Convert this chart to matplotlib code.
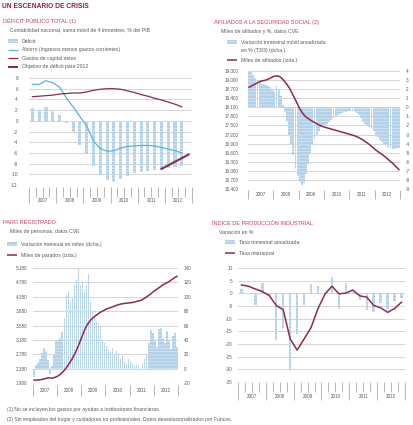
import matplotlib
matplotlib.use("Agg")
import matplotlib.pyplot as plt
from matplotlib.lines import Line2D
from matplotlib.patches import Rectangle

plt.rcParams["font.family"] = ["Liberation Sans", "DejaVu Sans"]
plt.rcParams["hatch.linewidth"] = 0.25
plt.rcParams["axes.unicode_minus"] = False

W, H = 414, 425

# --- data -------------------------------------------------------------
years = ["2007", "2008", "2009", "2010", "2011", "2012"]
quarters = [f"{y}T{q}" for y in years for q in range(1, 5)]

# Deficit publico, % PIB (2007T1-2012T3)
deficit = [2.3, 2.0, 2.5, 1.9, 1.0, -0.4, -2.0, -4.5, -6.2, -8.4, -10.2, -11.0,
           -11.5, -10.9, -10.3, -9.7, -9.5, -9.3, -9.2, -9.1, -8.8, -8.7, -8.5]
ahorro = [6.8, 6.8, 7.5, 7.1, 6.3, 4.3, 2.6, 0.8, -1.0, -3.8, -5.2, -5.7,
          -5.6, -5.1, -4.8, -4.7, -4.6, -4.6, -4.7, -5.0, -5.3, -5.6, -6.0]
gastos_capital = [4.5, 4.6, 4.7, 4.8, 5.0, 5.1, 5.2, 5.2, 5.4, 5.7, 5.9, 6.0,
                  6.0, 5.9, 5.6, 5.3, 4.9, 4.6, 4.2, 3.9, 3.5, 3.1, 2.6]
objetivo_q = ["2011T4", "2012T4"]
objetivo = [-9.0, -6.3]

# Afiliados (mensual 2007-2012)
afil_var = [4.0, 4.0, 3.6, 3.2, 3.0, 2.8, 2.6, 2.6, 2.5, 2.3, 2.2, 2.0,
            1.8, 2.3, 1.9, 1.2, 0.3, -0.5, -1.5, -3.0, -4.2, -5.3, -6.8, -7.6,
            -8.2, -8.6, -8.3, -7.4, -6.2, -5.0, -4.2, -3.5, -3.0, -2.6, -2.2, -1.9,
            -1.9, -1.8, -1.6, -1.4, -1.2, -1.0, -0.8, -0.7, -0.6, -0.5, -0.5, -0.4,
            -0.4, -0.4, -0.5, -0.6, -0.9, -1.2, -1.6, -1.8, -2.0, -2.2, -2.4, -2.6,
            -3.0, -3.3, -3.6, -3.8, -4.0, -4.2, -4.4, -4.5, -4.6, -4.6, -4.5, -4.5]
afil_miles = [18760, 18800, 18840, 18870, 18910, 18950, 18970, 18985, 19000, 19030, 19060, 19100,
              19130, 19140, 19130, 19090, 19020, 18940, 18850, 18750, 18620, 18480, 18340, 18200,
              18060, 17940, 17850, 17780, 17730, 17680, 17640, 17600, 17560, 17520, 17490, 17460,
              17440, 17420, 17400, 17380, 17360, 17340, 17320, 17300, 17280, 17260, 17240, 17220,
              17200, 17180, 17160, 17130, 17100, 17060, 17020, 16970, 16920, 16870, 16810, 16750,
              16690, 16640, 16590, 16540, 16490, 16430, 16370, 16310, 16250, 16180, 16110, 16040]

# Paro registrado (mensual 2007-2012)
paro_var = [-12, 5, 8, 14, 22, 29, 24, 12, -7, 4, 20, 38,
            40, 43, 51, 70, 103, 106, 93, 98, 117, 124, 139, 117,
            122, 108, 117, 131, 93, 79, 74, 65, 63, 58, 40, 35,
            32, 28, 25, 29, 20, 26, 22, 14, 18, 10, 6, 14,
            10, 6, 3, 5, 3, -2, 8, 14, 20, 35, 54, 50,
            38, 30, 55, 56, 42, 35, 52, 40, 28, 45, 50, 30]
paro_miles = [2060, 2060, 2065, 2070, 2080, 2095, 2110, 2125, 2120, 2115, 2130, 2150,
              2180, 2220, 2270, 2330, 2400, 2480, 2570, 2660, 2770, 2880, 3010, 3150,
              3300, 3440, 3560, 3650, 3720, 3780, 3830, 3870, 3910, 3950, 3980, 4010,
              4040, 4060, 4080, 4100, 4120, 4140, 4160, 4175, 4185, 4195, 4200, 4210,
              4215, 4220, 4235, 4250, 4265, 4280, 4310, 4340, 4380, 4420, 4460, 4510,
              4550, 4590, 4630, 4670, 4710, 4740, 4770, 4800, 4840, 4880, 4920, 4950]

# Indice de produccion industrial (trimestral 2007-2012)
ipi_trim = [1.8, 0.0, -4.8, 4.0, -0.5, -18.5, -14.0, -30.3, -16.0, -4.5, 3.8, 3.0,
            0.5, 6.4, -6.0, 4.2, 0.5, -2.5, -6.7, -7.5, -4.0, -6.0, -3.0, -2.0]
ipi_inter = [3.3, 2.8, 1.7, 0.7, -0.9, -4.8, -6.5, -18.0, -22.4, -18.0, -13.5, -6.0,
             -0.3, 2.8, -0.2, 0.1, 1.3, -1.0, -1.5, -4.8, -5.7, -7.5, -6.0, -3.5]

# --- style ------------------------------------------------------------
MAROON = "#8a2b4b"
TITLE = "#c43a5c"
BLUE = "#55b5df"
BAR = "#b3d2ea"
GRID = "#cfcfcf"
TXT = "#5a5a5a"
TICK = "#9a9a9a"
HATCH = "-----"

fig = plt.figure(figsize=(W / 100, H / 100), dpi=100)
ov = fig.add_axes([0, 0, 1, 1])
ov.set_xlim(0, W)
ov.set_ylim(H, 0)
ov.axis("off")


def make_axes(box):
    x0, y0, x1, y1 = box
    return fig.add_axes([x0 / W, 1 - y1 / H, (x1 - x0) / W, (y1 - y0) / H])


def clean(ax):
    for s in ax.spines.values():
        s.set_visible(False)
    ax.set_facecolor("none")


def year_axis(ax, box, per_year, minor_len, sep_len, label_y, gap=0):
    n = per_year * 6
    ax.set_xlim(0, n)
    ax.set_xticks(range(0, n + 1, per_year))
    ax.set_xticklabels([])
    if minor_len:
        ax.set_xticks([i for i in range(n) if i % per_year], minor=True)
    ax.tick_params(axis="x", which="major", length=sep_len * 0.72, width=0.5,
                   color=TICK, direction="out")
    ax.tick_params(axis="x", which="minor", length=minor_len * 0.72, width=0.5,
                   color=TICK, direction="out")
    ax.spines["bottom"].set_position(("outward", gap * 0.72))
    x0, _, x1, _ = box
    step = (x1 - x0) / 6
    for k, yr in enumerate(years):
        ov.text(x0 + (k + 0.5) * step, label_y, yr, fontsize=3.3, color=TXT,
                ha="center", va="center")


def header(x, y, title, subtitle):
    ov.text(x, y, title, fontsize=4.0, color=TITLE, va="center")
    ov.text(x + 7, y + 9, subtitle, fontsize=3.7, color=TXT, va="center")


def bar_key(x, y, label):
    ov.add_patch(Rectangle((x, y - 1.6), 10, 3.2, facecolor=BAR, edgecolor="white",
                           hatch=HATCH, linewidth=0))
    ov.text(x + 14, y, label, fontsize=3.7, color=TXT, va="center")


def line_key(x, y, label, color, lw):
    ov.add_line(Line2D([x, x + 10], [y, y], color=color, lw=lw, solid_capstyle="butt"))
    ov.text(x + 14, y, label, fontsize=3.7, color=TXT, va="center")


def grid_y(ax, ticks):
    for t in ticks:
        ax.axhline(t, color=GRID, lw=0.6, zorder=0)


ov.text(2, 6, "UN ESCENARIO DE CRISIS", fontsize=4.8, color="#8a1d3f",
        fontweight="bold", va="center")

# --- panel 1: deficit -------------------------------------------------
box1 = (29, 78, 192, 185)
ax1 = make_axes(box1)
clean(ax1)
header(3, 21, "DÉFICIT PÚBLICO TOTAL (1)",
       "Contabilidad nacional, suma móvil de 4 trimestres, % del PIB")
bar_key(8, 41, "Déficit")
line_key(8, 49.5, "Ahorro (ingresos menos gastos corrientes)", BLUE, 0.9)
line_key(8, 58, "Gastos de capital netos", MAROON, 0.9)
line_key(8, 66.5, "Objetivo de déficit para 2012", MAROON, 1.5)

xq = [i + 0.5 for i in range(len(deficit))]
ax1.bar(xq, deficit, width=0.45, color=BAR, edgecolor="white", hatch=HATCH,
        linewidth=0, zorder=2)
ax1.plot(xq, ahorro, color=BLUE, lw=0.9, zorder=3)
ax1.plot(xq, gastos_capital, color=MAROON, lw=0.9, zorder=3)
xo = [quarters.index(q) + 0.5 for q in objetivo_q]
ax1.plot(xo, objetivo, color=MAROON, lw=1.5, zorder=3)
ticks1 = list(range(-12, 9, 2))
ax1.set_ylim(-12, 8)
ax1.set_yticks(ticks1)
grid_y(ax1, ticks1)
ax1.tick_params(axis="y", length=0, labelsize=3.3, labelcolor=TXT, pad=8)
year_axis(ax1, box1, 4, 10, 16, 200, gap=2)

# --- panel 2: afiliados -----------------------------------------------
box2 = (248, 71, 400, 189)
ax2 = make_axes(box2)
clean(ax2)
ax2l = ax2.twinx()
clean(ax2l)
header(214, 22, "AFILIADOS A LA SEGURIDAD SOCIAL (2)", "Miles de afiliados y %, datos CVE")
bar_key(227, 42, "Variación trimestral móvil anualizada")
ov.text(241, 50.5, "en % (T3/3) (dcha.)", fontsize=3.7, color=TXT, va="center")
line_key(227, 60, "Miles de afiliados (izda.)", MAROON, 1.1)

xm = [i + 0.5 for i in range(len(afil_var))]
ax2.bar(xm, afil_var, width=0.85, color=BAR, edgecolor="white", hatch=HATCH,
        linewidth=0, zorder=2)
ax2l.plot(xm, afil_miles, color=MAROON, lw=1.1)
ticks2 = list(range(-9, 5))
ax2.set_ylim(-9, 4)
ax2.set_yticks(ticks2)
grid_y(ax2, ticks2)
ax2.yaxis.tick_right()
ax2.tick_params(axis="y", length=0, labelsize=3.3, labelcolor=TXT, pad=4)
ticks2l = list(range(15400, 19301, 300))
ax2l.set_ylim(15400, 19300)
ax2l.set_yticks(ticks2l)
ax2l.set_yticklabels([f"{v:,}".replace(",", ".") for v in ticks2l])
ax2l.yaxis.tick_left()
ax2l.tick_params(axis="y", length=0, labelsize=3.3, labelcolor=TXT, pad=7)
year_axis(ax2, box2, 12, 0, 9, 194, gap=1)

# --- panel 3: paro ----------------------------------------------------
box3 = (33, 268, 178, 383)
ax3 = make_axes(box3)
clean(ax3)
ax3l = ax3.twinx()
clean(ax3l)
header(3, 222, "PARO REGISTRADO", "Miles de personas, datos CVE")
bar_key(7, 244, "Variación mensual en miles (dcha.)")
line_key(7, 255, "Miles de parados (izda.)", MAROON, 1.1)

ax3.bar(xm, paro_var, width=0.7, color=BAR, edgecolor="white", hatch=HATCH,
        linewidth=0, zorder=2)
ax3l.plot(xm, paro_miles, color=MAROON, lw=1.1)
ticks3 = list(range(-20, 141, 20))
ax3.set_ylim(-20, 140)
ax3.set_yticks(ticks3)
grid_y(ax3, ticks3)
ax3.yaxis.tick_right()
ax3.tick_params(axis="y", length=0, labelsize=3.3, labelcolor=TXT, pad=4)
ticks3l = list(range(1980, 5181, 400))
ax3l.set_ylim(1980, 5180)
ax3l.set_yticks(ticks3l)
ax3l.set_yticklabels([f"{v:,}".replace(",", ".") for v in ticks3l])
ax3l.yaxis.tick_left()
ax3l.tick_params(axis="y", length=0, labelsize=3.3, labelcolor=TXT, pad=4)
year_axis(ax3, box3, 12, 0, 11, 391, gap=2)

# --- panel 4: IPI -----------------------------------------------------
box4 = (238, 268, 405, 382)
ax4 = make_axes(box4)
clean(ax4)
header(212, 223, "ÍNDICE DE PRODUCCIÓN INDUSTRIAL", "Variación en %")
bar_key(225, 242, "Tasa trimestral anualizada")
line_key(225, 253, "Tasa interanual", MAROON, 1.1)

xi = [i + 0.5 for i in range(len(ipi_trim))]
ax4.bar(xi, ipi_trim, width=0.35, color=BAR, edgecolor="white", hatch=HATCH,
        linewidth=0, zorder=2)
ax4.plot(xi, ipi_inter, color=MAROON, lw=1.1, zorder=3)
ticks4 = list(range(-35, 11, 5))
ax4.set_ylim(-35, 10)
ax4.set_yticks(ticks4)
grid_y(ax4, ticks4[1:])
ax4.tick_params(axis="y", length=0, labelsize=3.3, labelcolor=TXT, pad=4)
year_axis(ax4, box4, 4, 10, 18, 397)

# --- notes ------------------------------------------------------------
ov.text(7, 410, "(1) No se incluyen los gastos por ayudas a instituciones financieras.",
        fontsize=3.6, color=TXT, va="center")
ov.text(7, 419, "(2) Sin empleados del hogar y cuidadores no profesionales. "
        "Datos desestacionalizados por Funcas.", fontsize=3.6, color=TXT, va="center")

fig.savefig("out.png", dpi=100)
